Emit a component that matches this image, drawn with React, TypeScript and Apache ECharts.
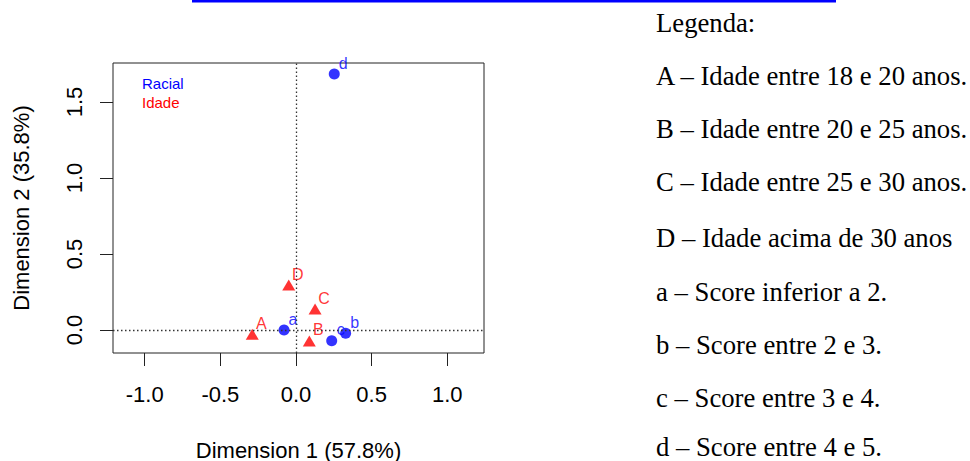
import React, { useEffect, useRef } from "react";
import * as echarts from "echarts";

const racialNames = ["a", "b", "c", "d"];
const racialX = [-0.079, 0.328, 0.236, 0.253];
const racialY = [0.0, -0.022, -0.07, 1.684];

const idadeNames = ["A", "B", "C", "D"];
const idadeX = [-0.289, 0.088, 0.126, -0.048];
const idadeY = [-0.028, -0.072, 0.138, 0.296];

const xTicks = [-1, -0.5, 0, 0.5, 1];
const yTicks = [0, 0.5, 1, 1.5];

const xTitle = "Dimension 1 (57.8%)";
const yTitle = "Dimension 2 (35.8%)";
const legendSeries = ["Racial", "Idade"];

const legendLines = [
  "Legenda:",
  "A – Idade entre 18 e 20 anos.",
  "B – Idade entre 20 e 25 anos.",
  "C – Idade entre 25 e 30 anos.",
  "D – Idade acima de 30 anos",
  "a – Score inferior a 2.",
  "b – Score entre 2 e 3.",
  "c – Score entre 3 e 4.",
  "d – Score entre 4 e 5.",
];
const legendLineY = [23, 76, 129, 182, 238, 292, 345, 398, 447];

const BLUE = "#0000FF";
const RED = "#FF0000";
const SANS = "'Liberation Sans', Arial, Helvetica, sans-serif";
const SERIF = "'Liberation Serif', 'Times New Roman', serif";

export default function App() {
  const ref = useRef<HTMLDivElement>(null);

  useEffect(() => {
    if (!ref.current) return;
    const chart = echarts.init(ref.current, undefined, { renderer: "svg" });

    const gridLeft = 113;
    const gridTop = 63;
    const gridW = 371;
    const gridH = 290;

    const graphics: any[] = [
      {
        type: "rect",
        shape: { x: 192, y: 0, width: 644, height: 2.5 },
        style: { fill: BLUE },
      },
      {
        type: "text",
        x: gridLeft + gridW / 2,
        y: 450,
        style: {
          text: xTitle,
          font: `22px ${SANS}`,
          fill: "#000",
          align: "center",
          verticalAlign: "middle",
        },
      },
      {
        type: "text",
        x: 21,
        y: gridTop + gridH / 2,
        rotation: Math.PI / 2,
        style: {
          text: yTitle,
          font: `22px ${SANS}`,
          fill: "#000",
          align: "center",
          verticalAlign: "middle",
        },
      },
      {
        type: "text",
        x: 142,
        y: 83,
        style: {
          text: legendSeries[0],
          font: `15px ${SANS}`,
          fill: BLUE,
          align: "left",
          verticalAlign: "middle",
        },
      },
      {
        type: "text",
        x: 142,
        y: 102,
        style: {
          text: legendSeries[1],
          font: `15px ${SANS}`,
          fill: RED,
          align: "left",
          verticalAlign: "middle",
        },
      },
    ];
    legendLines.forEach((t, i) => {
      graphics.push({
        type: "text",
        x: 656,
        y: legendLineY[i],
        style: {
          text: t,
          font: `26.7px ${SERIF}`,
          fill: "#000",
          align: "left",
          verticalAlign: "middle",
        },
      });
    });

    const labelStyle = (color: string) => ({
      show: true,
      position: "inside" as const,
      offset: [9, -11],
      color,
      fontFamily: SANS,
      fontSize: 16,
      formatter: (p: any) => p.name,
    });

    chart.setOption({
      animation: false,
      grid: {
        left: gridLeft,
        top: gridTop,
        width: gridW,
        height: gridH,
        show: true,
        borderColor: "#222",
        borderWidth: 1,
        backgroundColor: "transparent",
      },
      xAxis: {
        type: "value",
        position: "bottom",
        min: -1.2095,
        max: 1.2426,
        axisLine: { show: false, onZero: false },
        splitLine: { show: false },
        axisTick: {
          show: true,
          inside: false,
          length: 13,
          customValues: xTicks,
          lineStyle: { color: "#222", width: 1 },
        },
        axisLabel: {
          customValues: xTicks,
          inside: false,
          margin: 30,
          fontSize: 22,
          fontFamily: SANS,
          color: "#000",
          formatter: (v: number) => v.toFixed(1),
        },
      },
      yAxis: {
        type: "value",
        position: "left",
        min: -0.1513,
        max: 1.7566,
        axisLine: { show: false, onZero: false },
        splitLine: { show: false },
        axisTick: {
          show: true,
          inside: false,
          length: 13,
          customValues: yTicks,
          lineStyle: { color: "#222", width: 1 },
        },
        axisLabel: {
          customValues: yTicks,
          inside: false,
          rotate: 90,
          margin: 28,
          fontSize: 22,
          fontFamily: SANS,
          color: "#000",
          formatter: (v: number) => v.toFixed(1),
        },
      },
      graphic: graphics,
      series: [
        {
          type: "scatter",
          name: "Racial",
          symbol: "circle",
          symbolSize: 11,
          itemStyle: { color: BLUE },
          data: racialNames.map((n, i) => ({ name: n, value: [racialX[i], racialY[i]] })),
          label: labelStyle(BLUE),
          markLine: {
            silent: true,
            symbol: ["none", "none"],
            label: { show: false },
            lineStyle: { type: [1.5, 2.5], color: "#333", width: 1.3 },
            data: [{ xAxis: 0 }, { yAxis: 0 }],
          },
          z: 3,
        },
        {
          type: "scatter",
          name: "Idade",
          symbol: "triangle",
          symbolSize: [13, 11],
          itemStyle: { color: RED },
          data: idadeNames.map((n, i) => ({ name: n, value: [idadeX[i], idadeY[i]] })),
          label: labelStyle(RED),
          z: 3,
        },
      ],
    });

    return () => chart.dispose();
  }, []);

  return (
    <div
      ref={ref}
      style={{ position: "fixed", left: 0, top: 0, width: 970, height: 461, background: "#fff" }}
    />
  );
}
